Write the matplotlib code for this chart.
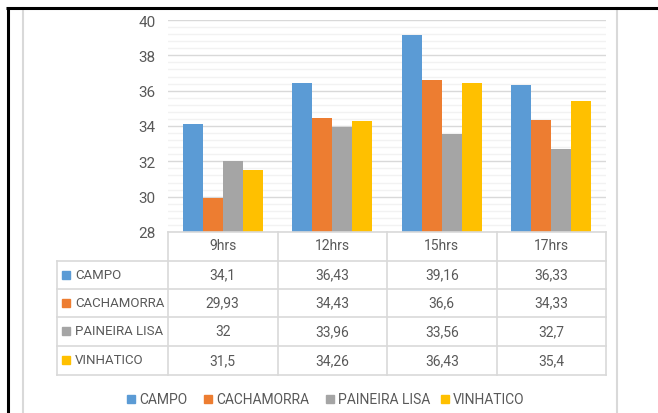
import numpy as np
import matplotlib
matplotlib.use('Agg')
import matplotlib.pyplot as plt
from matplotlib.ticker import MultipleLocator
from matplotlib.patches import Rectangle

plt.rcParams['font.family'] = ['Roboto', 'DejaVu Sans']

# dados de temperatura por horário
horarios = ['9hrs', '12hrs', '15hrs', '17hrs']
series = ['CAMPO', 'CACHAMORRA', 'PAINEIRA LISA', 'VINHATICO']
campo = [34.1, 36.43, 39.16, 36.33]
cachamorra = [29.93, 34.43, 36.6, 34.33]
paineira = [32, 33.96, 33.56, 32.7]
vinhatico = [31.5, 34.26, 36.43, 35.4]
valores = [campo, cachamorra, paineira, vinhatico]
cores = ['#5B9BD5', '#ED7D31', '#A5A5A5', '#FFC000']
texto = '#595959'
linha = '#D9D9D9'

W, H = 658, 414
fig = plt.figure(figsize=(W / 100, H / 100), dpi=100)


def caixa(x0, y0, x1, y1):
    return [x0 / W, 1 - y1 / H, (x1 - x0) / W, (y1 - y0) / H]


# área do gráfico de barras
ax_l, ax_t, ax_r, ax_b = 168, 21, 606, 233
ax = fig.add_axes(caixa(ax_l, ax_t, ax_r, ax_b))
x = np.arange(len(horarios))
larg = 0.183
for i, (nome, vals) in enumerate(zip(series, valores)):
    ax.bar(x + (i - 1.5) * larg, np.array(vals) - 28, larg, bottom=28,
           color=cores[i], zorder=3)
ax.set_xlim(-0.5, len(horarios) - 0.5)
ax.set_ylim(28, 40)
ax.yaxis.set_major_locator(MultipleLocator(2))
ax.yaxis.set_minor_locator(MultipleLocator(0.4))
ax.grid(axis='y', which='minor', color='#F2F2F2', lw=1, zorder=0)
ax.grid(axis='y', which='major', color=linha, lw=1, zorder=1)
ax.set_xticks([])
ax.tick_params(axis='y', which='both', length=0, pad=9, labelsize=11, labelcolor=texto)
for s in ax.spines.values():
    s.set_visible(False)

# camada de desenho em pixels para tabela, legenda e moldura
ov = fig.add_axes([0, 0, 1, 1])
ov.set_xlim(0, W)
ov.set_ylim(H, 0)
ov.axis('off')
ov.patch.set_alpha(0)

col = ax_l + (ax_r - ax_l) / len(horarios) * np.arange(len(horarios) + 1)
lin = [233, 262, 290, 318, 347, 376]
tab_l = 57

ov.plot([ax_l, ax_r], [lin[0], lin[0]], color=linha, lw=1.2)
for y in lin[1:]:
    ov.plot([tab_l, ax_r], [y, y], color=linha, lw=1.2)
for xc in col:
    ov.plot([xc, xc], [lin[0], lin[-1]], color=linha, lw=1.2)
ov.plot([tab_l, tab_l], [lin[1], lin[-1]], color=linha, lw=1.2)

fs = 10
for j, h in enumerate(horarios):
    ov.text((col[j] + col[j + 1]) / 2, (lin[0] + lin[1]) / 2 - 1, h,
            ha='center', va='center', fontsize=fs, color=texto)
for i, (nome, vals) in enumerate(zip(series, valores)):
    yc = (lin[i + 1] + lin[i + 2]) / 2 - 0.5
    ov.add_patch(Rectangle((62, yc - 4), 8, 8, color=cores[i]))
    ov.text(75, yc, nome, ha='left', va='center', fontsize=9.5, color=texto)
    for j, v in enumerate(vals):
        ov.text((col[j] + col[j + 1]) / 2, yc, f'{v:g}'.replace('.', ','),
                ha='center', va='center', fontsize=fs, color=texto)

# legenda inferior
leg_x = [127, 204, 326, 441]
for i, nome in enumerate(series):
    ov.add_patch(Rectangle((leg_x[i], 396), 8, 8, color=cores[i]))
    ov.text(leg_x[i] + 12, 400.5, nome, ha='left', va='center', fontsize=fs, color=texto)

# moldura
ov.plot([22.5, 22.5], [9, H], color=linha, lw=1.5)
ov.plot([617, 617], [9, H], color=linha, lw=1.5)
ov.plot([6, W], [8.5, 8.5], color='black', lw=2.2, solid_capstyle='butt')
ov.plot([7.5, 7.5], [8, H], color='black', lw=2.2, solid_capstyle='butt')

fig.savefig('out.png', dpi=100)
